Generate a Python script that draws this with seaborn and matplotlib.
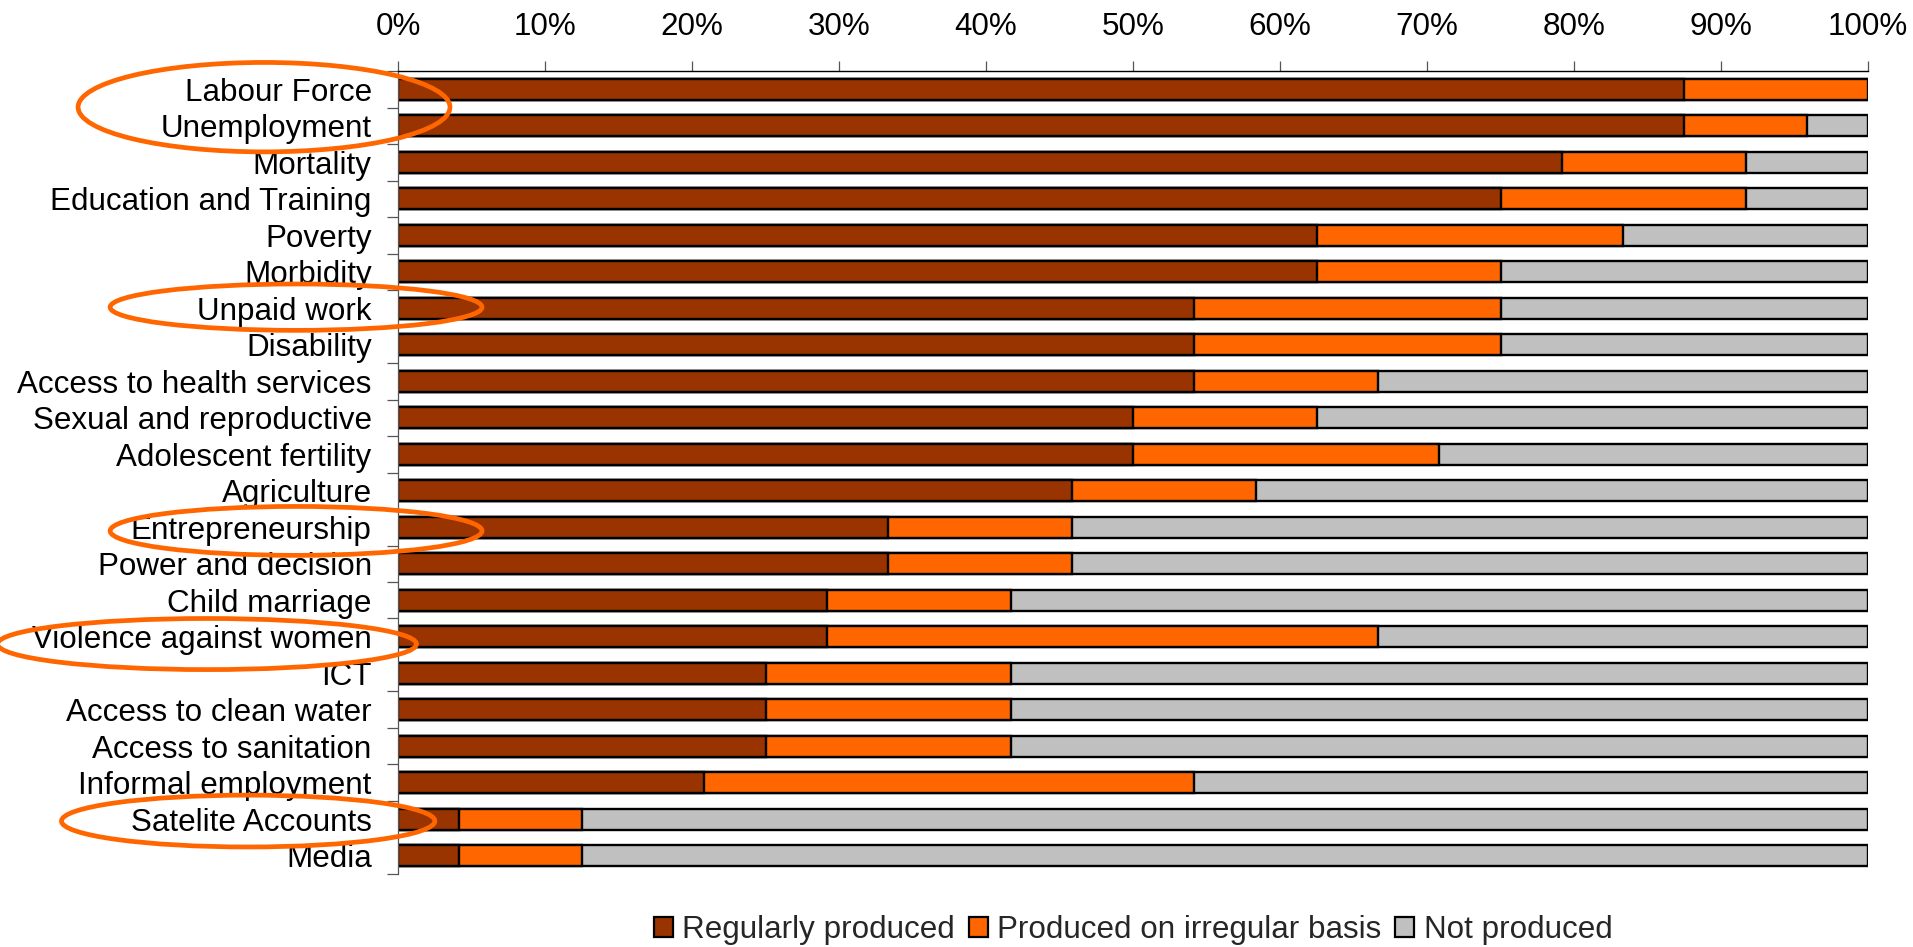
import numpy as np
import pandas as pd
import seaborn as sns
import matplotlib
matplotlib.use("Agg")
import matplotlib.pyplot as plt
from matplotlib.patches import Ellipse, Patch
from matplotlib.ticker import PercentFormatter, FixedLocator

# Number of countries (out of 24) producing each gender statistic
categories = [
    "Labour Force", "Unemployment", "Mortality", "Education and Training",
    "Poverty", "Morbidity", "Unpaid work", "Disability",
    "Access to health services", "Sexual and reproductive",
    "Adolescent fertility", "Agriculture", "Entrepreneurship",
    "Power and decision", "Child marriage", "Violence against women",
    "ICT", "Access to clean water", "Access to sanitation",
    "Informal employment", "Satelite Accounts", "Media",
]
regularly = [21, 21, 19, 18, 15, 15, 13, 13, 13, 12, 12, 11, 8, 8, 7, 7, 6, 6, 6, 5, 1, 1]
irregular = [3, 2, 3, 4, 5, 3, 5, 5, 3, 3, 5, 3, 3, 3, 3, 9, 4, 4, 4, 8, 2, 2]
not_produced = [0, 1, 2, 2, 4, 6, 6, 6, 8, 9, 7, 10, 13, 13, 14, 8, 14, 14, 14, 11, 21, 21]

series_names = ["Regularly produced", "Produced on irregular basis", "Not produced"]
series_colors = ["#993300", "#FF6600", "#C0C0C0"]

df = pd.DataFrame({
    "category": categories,
    "reg": regularly,
    "irr": irregular,
    "not": not_produced,
})
total = df[["reg", "irr", "not"]].sum(axis=1)
df["cum_reg"] = df["reg"] / total
df["cum_irr"] = (df["reg"] + df["irr"]) / total
df["cum_all"] = (df["reg"] + df["irr"] + df["not"]) / total

sns.set_style("white")
plt.rcParams["font.family"] = ["Liberation Sans", "DejaVu Sans"]
FS = 22.6

fig = plt.figure(figsize=(19.13, 9.47), dpi=100)
ax = fig.add_axes([0.2081, 0.0771, 0.9765 - 0.2081, 0.9250 - 0.0771])

# Stacked bars drawn as overlapping cumulative layers, widest first
for col, color in zip(["cum_all", "cum_irr", "cum_reg"], series_colors[::-1]):
    sns.barplot(data=df, x=col, y="category", order=categories, orient="h",
                color=color, saturation=1, width=0.57, edgecolor="black",
                linewidth=1.7, ax=ax)

ax.set_xlim(0, 1)
ax.set_ylim(len(categories) - 0.5, -0.5)
ax.set_xlabel("")
ax.set_ylabel("")

# Percentage axis on top
ax.xaxis.tick_top()
ax.set_xticks(np.linspace(0, 1, 11))
ax.xaxis.set_major_formatter(PercentFormatter(1, decimals=0))
ax.tick_params(axis="x", which="major", top=True, bottom=False, length=7.2,
               width=0.9, color="#555555", pad=14, labelsize=FS, labelcolor="black")

# Category labels with separator ticks between rows
ax.tick_params(axis="y", which="major", length=0, pad=19, labelsize=FS, labelcolor="black")
ax.yaxis.set_minor_locator(FixedLocator(np.arange(-0.5, len(categories), 1.0)))
ax.tick_params(axis="y", which="minor", left=True, length=8, width=0.9, color="#555555")

for side in ["right", "bottom"]:
    ax.spines[side].set_visible(False)
ax.spines["top"].set_color("black")
ax.spines["top"].set_linewidth(1.0)
ax.spines["left"].set_color("#555555")
ax.spines["left"].set_linewidth(0.9)
ax.grid(False)

# Orange rings around emphasised labels (x in axis fraction units, y in rows)
pos = {c: i for i, c in enumerate(categories)}
rings = [
    ((pos["Labour Force"] + pos["Unemployment"]) / 2 - 0.01, -0.0912, 0.253, 2.45),
    (pos["Unpaid work"] - 0.03, -0.0694, 0.253, 1.27),
    (pos["Entrepreneurship"] + 0.1, -0.0694, 0.253, 1.34),
    (pos["Violence against women"] + 0.2, -0.130, 0.285, 1.4),
    (pos["Satelite Accounts"] + 0.05, -0.102, 0.254, 1.42),
]
for yc, xc, w, h in rings:
    ax.add_patch(Ellipse((xc, yc), w, h, fill=False, edgecolor="#FF6600",
                         linewidth=3.4, clip_on=False, zorder=10))

handles = [Patch(facecolor=c, edgecolor="black", linewidth=1.6, label=n)
           for n, c in zip(series_names, series_colors)]
ax.legend(handles=handles, loc="center", bbox_to_anchor=(0.5, -0.0697), ncol=3,
          frameon=False, fontsize=FS, handlelength=0.6, handleheight=0.6,
          handletextpad=0.3, columnspacing=0.45, borderaxespad=0)

fig.savefig("out.png", dpi=100)
